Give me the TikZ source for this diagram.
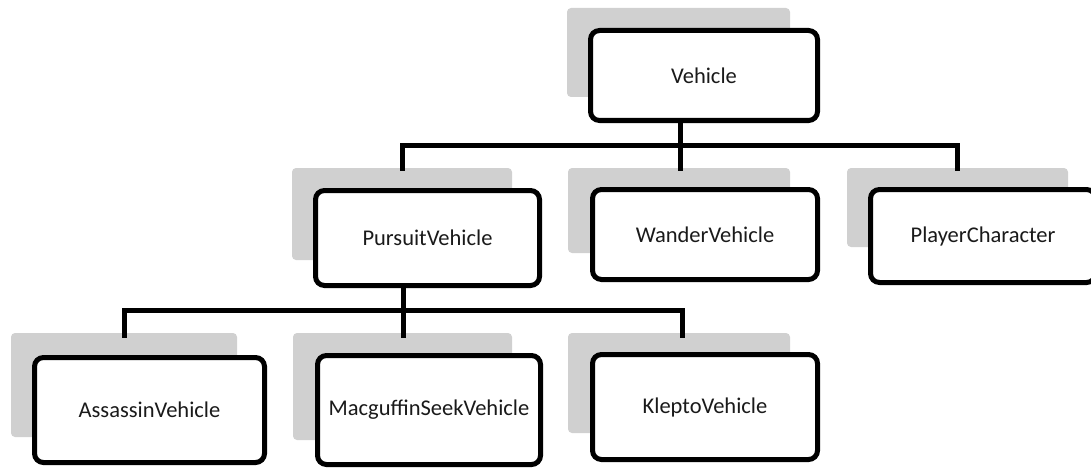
\documentclass[tikz,border=0pt]{standalone}
\usepackage{fontspec}
\setmainfont{Carlito}
\definecolor{shade}{RGB}{208,208,208}
\definecolor{ink}{RGB}{26,26,26}
\begin{document}
\begin{tikzpicture}[x=1pt,y=-1pt,
  shadowbox/.style={fill=shade,draw=none,rounded corners=4pt,inner sep=0pt},
  classbox/.style={draw=black,fill=white,line width=5pt,rounded corners=9pt,inner sep=0pt,
     font=\fontsize{22.5}{27}\selectfont,text=ink},
  conn/.style={draw=black,line width=5pt,line join=miter}]
\useasboundingbox (0,0) rectangle (1091,468);
% shadows
\node[shadowbox,minimum width=223pt,minimum height=89pt] (sVehicle) at (678.5,52.5) {};
\node[shadowbox,minimum width=220pt,minimum height=92pt] (sPursuit) at (402,214) {};
\node[shadowbox,minimum width=222pt,minimum height=85pt] (sWander) at (679,210.5) {};
\node[shadowbox,minimum width=221pt,minimum height=79pt] (sPlayer) at (957.5,207.5) {};
\node[shadowbox,minimum width=226pt,minimum height=104pt] (sAssassin) at (124,385) {};
\node[shadowbox,minimum width=219pt,minimum height=107pt] (sMacguffin) at (402.5,386.5) {};
\node[shadowbox,minimum width=222pt,minimum height=100pt] (sKlepto) at (679,383) {};
% boxes
\node[classbox,minimum width=227pt,minimum height=90pt] (Vehicle) at (704,75.5) {Vehicle};
\node[classbox,minimum width=224pt,minimum height=95pt] (Pursuit) at (427.5,238) {PursuitVehicle};
\node[classbox,minimum width=225pt,minimum height=90pt] (Wander) at (705,234.5) {WanderVehicle};
\node[classbox,minimum width=225pt,minimum height=93pt] (Player) at (983,236) {PlayerCharacter};
\node[classbox,minimum width=230pt,minimum height=105pt] (Assassin) at (149.5,410) {AssassinVehicle};
\node[classbox,minimum width=223pt,minimum height=109pt] (Macguffin) at (429,410) {MacguffinSeekVehicle};
\node[classbox,minimum width=225pt,minimum height=105pt] (Klepto) at (705,407) {KleptoVehicle};
% junctions
\coordinate (j1) at (680,145);
\coordinate (j2) at (403,310);
% connectors level 1
\draw[conn] (Vehicle.south -| j1) -- (j1);
\draw[conn] ([yshift=-3pt]sPursuit.north) -- (sPursuit.north |- j1) -- (sPlayer.north |- j1) -- ([yshift=-3pt]sPlayer.north);
\draw[conn] (j1) -- ([yshift=-3pt]sWander.north -| j1);
% connectors level 2
\draw[conn] (Pursuit.south -| j2) -- (j2);
\draw[conn] ([yshift=-5pt]sAssassin.north) -- (sAssassin.north |- j2) -- ([xshift=3pt]sKlepto.north |- j2) -- ([xshift=3pt,yshift=-5pt]sKlepto.north);
\draw[conn] (j2) -- ([yshift=-5pt]sMacguffin.north -| j2);
\end{tikzpicture}
\end{document}
